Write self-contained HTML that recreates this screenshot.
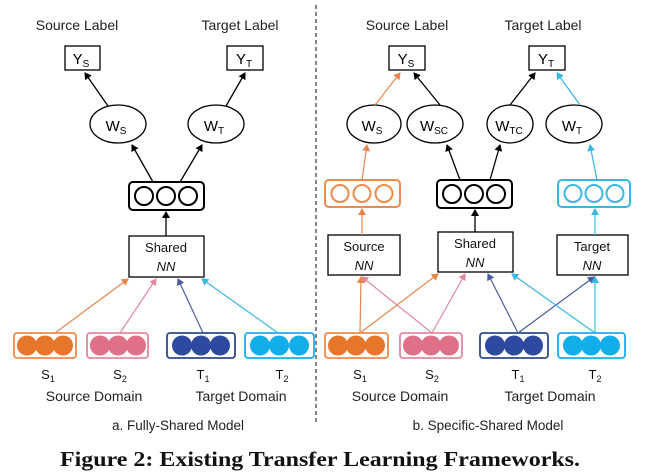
<!DOCTYPE html>
<html><head><meta charset="utf-8"><style>
html,body{margin:0;padding:0;background:#fff;}
svg{display:block;font-family:"Liberation Sans",sans-serif;}
</style></head><body>
<svg width="658" height="476" viewBox="0 0 658 476" xmlns="http://www.w3.org/2000/svg">
<defs>
<marker id="ak" markerWidth="8" markerHeight="8" refX="6" refY="4" orient="auto" markerUnits="userSpaceOnUse"><path d="M0,0 L7,4 L0,8 z" fill="#000"/></marker>
<marker id="ao" markerWidth="8" markerHeight="8" refX="6" refY="4" orient="auto" markerUnits="userSpaceOnUse"><path d="M0,0 L7,4 L0,8 z" fill="#E8864A"/></marker>
<marker id="ap" markerWidth="8" markerHeight="8" refX="6" refY="4" orient="auto" markerUnits="userSpaceOnUse"><path d="M0,0 L7,4 L0,8 z" fill="#E0899D"/></marker>
<marker id="an" markerWidth="8" markerHeight="8" refX="6" refY="4" orient="auto" markerUnits="userSpaceOnUse"><path d="M0,0 L7,4 L0,8 z" fill="#4A5E9E"/></marker>
<marker id="ac" markerWidth="8" markerHeight="8" refX="6" refY="4" orient="auto" markerUnits="userSpaceOnUse"><path d="M0,0 L7,4 L0,8 z" fill="#3AB6E4"/></marker>
</defs>
<g font-size="14" fill="#222" text-anchor="middle">
<text x="77" y="30">Source Label</text><text x="240" y="30">Target Label</text>
<text x="407" y="30">Source Label</text><text x="543" y="30">Target Label</text>
</g>
<line x1="316" y1="5" x2="316" y2="425" stroke="#333" stroke-width="1.2" stroke-dasharray="4,3"/>
<g fill="#fff" stroke="#000" stroke-width="1.3">
<rect x="65" y="46" width="35" height="24"/><rect x="227" y="46" width="36" height="24"/>
<rect x="389" y="46" width="36" height="24"/><rect x="529" y="46" width="36" height="24"/>
<ellipse cx="118" cy="124" rx="28" ry="19"/><ellipse cx="216" cy="124" rx="28" ry="19"/>
<ellipse cx="374" cy="124" rx="27" ry="19"/><ellipse cx="435" cy="124" rx="28" ry="19"/>
<ellipse cx="510" cy="124" rx="23" ry="19"/><ellipse cx="574" cy="124" rx="28" ry="19"/>
<rect x="129" y="236" width="75" height="41"/>
<rect x="328" y="235" width="72" height="40"/><rect x="438" y="232" width="75" height="40"/><rect x="557" y="235" width="71" height="40"/>
</g>
<g font-size="15" fill="#000" text-anchor="middle">
<text x="81" y="64">Y<tspan font-size="10" dy="3">S</tspan></text>
<text x="244" y="64">Y<tspan font-size="10" dy="3">T</tspan></text>
<text x="406" y="64">Y<tspan font-size="10" dy="3">S</tspan></text>
<text x="546" y="64">Y<tspan font-size="10" dy="3">T</tspan></text>
<text x="116" y="131">W<tspan font-size="10" dy="3">S</tspan></text>
<text x="214" y="131">W<tspan font-size="10" dy="3">T</tspan></text>
<text x="372" y="131">W<tspan font-size="10" dy="3">S</tspan></text>
<text x="434" y="131">W<tspan font-size="10" dy="3">SC</tspan></text>
<text x="509" y="131">W<tspan font-size="10" dy="3">TC</tspan></text>
<text x="572" y="131">W<tspan font-size="10" dy="3">T</tspan></text>
</g>
<g font-size="13" fill="#111" text-anchor="middle">
<text x="166" y="252">Shared</text><text x="166" y="271" font-style="italic">NN</text>
<text x="364" y="251">Source</text><text x="364" y="270" font-style="italic">NN</text>
<text x="475" y="248">Shared</text><text x="475" y="267" font-style="italic">NN</text>
<text x="592" y="251">Target</text><text x="592" y="270" font-style="italic">NN</text>
</g>
<g fill="none" stroke-width="2">
<rect x="129" y="182" width="75" height="28" rx="4" stroke="#000"/>
<circle cx="144" cy="196" r="9" stroke="#000"/><circle cx="166" cy="196" r="9" stroke="#000"/><circle cx="188" cy="196" r="9" stroke="#000"/>
<rect x="325" y="180" width="75" height="27" rx="4" stroke="#EE8A4A"/>
<circle cx="340" cy="193.5" r="8.5" stroke="#EE8A4A"/><circle cx="362" cy="193.5" r="8.5" stroke="#EE8A4A"/><circle cx="384" cy="193.5" r="8.5" stroke="#EE8A4A"/>
<rect x="437" y="180" width="75" height="28" rx="4" stroke="#000"/>
<circle cx="452" cy="194" r="9" stroke="#000"/><circle cx="474" cy="194" r="9" stroke="#000"/><circle cx="496" cy="194" r="9" stroke="#000"/>
<rect x="558" y="180" width="72" height="27" rx="4" stroke="#3AB6E4"/>
<circle cx="573" cy="193.5" r="8.5" stroke="#3AB6E4"/><circle cx="594" cy="193.5" r="8.5" stroke="#3AB6E4"/><circle cx="615" cy="193.5" r="8.5" stroke="#3AB6E4"/>
</g>
<g stroke-width="1.8">
<rect x="14" y="333" width="62" height="25" rx="3" fill="#fff" stroke="#EE8A4A"/>
<rect x="87" y="333" width="61" height="25" rx="3" fill="#fff" stroke="#E0899D"/>
<rect x="167" y="333" width="68" height="25" rx="3" fill="#fff" stroke="#2F4A8A"/>
<rect x="245" y="333" width="69" height="25" rx="3" fill="#fff" stroke="#18B0E8"/>
<rect x="325" y="333" width="63" height="25" rx="3" fill="#fff" stroke="#EE8A4A"/>
<rect x="400" y="333" width="62" height="25" rx="3" fill="#fff" stroke="#E0899D"/>
<rect x="480" y="333" width="68" height="25" rx="3" fill="#fff" stroke="#2F4A8A"/>
<rect x="558" y="333" width="67" height="25" rx="3" fill="#fff" stroke="#18B0E8"/>
</g>
<g>
<g fill="#E6762A"><circle cx="27" cy="345.5" r="10"/><circle cx="45" cy="345.5" r="10"/><circle cx="63" cy="345.5" r="10"/>
<circle cx="338" cy="345.5" r="10"/><circle cx="356" cy="345.5" r="10"/><circle cx="375" cy="345.5" r="10"/></g>
<g fill="#E07088"><circle cx="100" cy="345.5" r="10"/><circle cx="118" cy="345.5" r="10"/><circle cx="136" cy="345.5" r="10"/>
<circle cx="413" cy="345.5" r="10"/><circle cx="431" cy="345.5" r="10"/><circle cx="449" cy="345.5" r="10"/></g>
<g fill="#2E4AA0"><circle cx="182" cy="345.5" r="10"/><circle cx="201" cy="345.5" r="10"/><circle cx="220" cy="345.5" r="10"/>
<circle cx="495" cy="345.5" r="10"/><circle cx="514" cy="345.5" r="10"/><circle cx="533" cy="345.5" r="10"/></g>
<g fill="#12AEEA"><circle cx="260" cy="345.5" r="10"/><circle cx="279" cy="345.5" r="10"/><circle cx="299" cy="345.5" r="10"/>
<circle cx="573" cy="345.5" r="10"/><circle cx="591" cy="345.5" r="10"/><circle cx="610" cy="345.5" r="10"/></g>
</g>
<g stroke="#000" stroke-width="1.3" marker-end="url(#ak)">
<line x1="108" y1="106" x2="85" y2="73"/><line x1="226" y1="106" x2="245" y2="73"/>
<line x1="153" y1="182" x2="132" y2="145"/><line x1="180" y1="182" x2="202" y2="145"/>
<line x1="166" y1="236" x2="166" y2="212"/>
<line x1="440" y1="105" x2="414" y2="73"/><line x1="510" y1="105" x2="535" y2="73"/>
<line x1="460" y1="180" x2="447" y2="145"/><line x1="490" y1="180" x2="500" y2="145"/>
<line x1="475" y1="232" x2="475" y2="210"/>
</g>
<g stroke-width="1.2">
<line x1="55" y1="333" x2="128" y2="279" stroke="#E8864A" marker-end="url(#ao)"/>
<line x1="120" y1="333" x2="156" y2="279" stroke="#E0899D" marker-end="url(#ap)"/>
<line x1="203" y1="333" x2="178" y2="279" stroke="#4A5E9E" marker-end="url(#an)"/>
<line x1="278" y1="333" x2="202" y2="279" stroke="#3AB6E4" marker-end="url(#ac)"/>
<line x1="360" y1="333" x2="361" y2="277" stroke="#E8864A" marker-end="url(#ao)"/>
<line x1="360" y1="333" x2="438" y2="274" stroke="#E8864A" marker-end="url(#ao)"/>
<line x1="432" y1="333" x2="362" y2="277" stroke="#E0899D" marker-end="url(#ap)"/>
<line x1="432" y1="333" x2="465" y2="274" stroke="#E0899D" marker-end="url(#ap)"/>
<line x1="518" y1="333" x2="488" y2="274" stroke="#4A5E9E" marker-end="url(#an)"/>
<line x1="518" y1="333" x2="594" y2="277" stroke="#4A5E9E" marker-end="url(#an)"/>
<line x1="595" y1="333" x2="512" y2="274" stroke="#3AB6E4" marker-end="url(#ac)"/>
<line x1="595" y1="333" x2="595" y2="277" stroke="#3AB6E4" marker-end="url(#ac)"/>
<line x1="362" y1="235" x2="362" y2="209" stroke="#E8864A" marker-end="url(#ao)"/>
<line x1="362" y1="180" x2="367" y2="145" stroke="#E8864A" marker-end="url(#ao)"/>
<line x1="375" y1="105" x2="400" y2="73" stroke="#E8864A" marker-end="url(#ao)"/>
<line x1="595" y1="235" x2="595" y2="209" stroke="#3AB6E4" marker-end="url(#ac)"/>
<line x1="597" y1="180" x2="590" y2="145" stroke="#3AB6E4" marker-end="url(#ac)"/>
<line x1="580" y1="105" x2="557" y2="73" stroke="#3AB6E4" marker-end="url(#ac)"/>
</g>
<g font-size="13" fill="#111" text-anchor="middle">
<text x="48" y="379">S<tspan font-size="9" dy="3">1</tspan></text>
<text x="120" y="379">S<tspan font-size="9" dy="3">2</tspan></text>
<text x="203" y="379">T<tspan font-size="9" dy="3">1</tspan></text>
<text x="282" y="379">T<tspan font-size="9" dy="3">2</tspan></text>
<text x="360" y="379">S<tspan font-size="9" dy="3">1</tspan></text>
<text x="432" y="379">S<tspan font-size="9" dy="3">2</tspan></text>
<text x="518" y="379">T<tspan font-size="9" dy="3">1</tspan></text>
<text x="595" y="379">T<tspan font-size="9" dy="3">2</tspan></text>
</g>
<g font-size="14" fill="#222" text-anchor="middle">
<text x="94" y="401">Source Domain</text><text x="241" y="401">Target Domain</text>
<text x="400" y="401">Source Domain</text><text x="550" y="401">Target Domain</text>
<text x="178" y="430" font-size="13.5">a. Fully-Shared Model</text>
<text x="488" y="430" font-size="13.5">b. Specific-Shared Model</text>
</g>
<text x="60" y="466" font-family="Liberation Serif,serif" font-weight="bold" font-size="21" fill="#111" textLength="520" lengthAdjust="spacingAndGlyphs">Figure 2: Existing Transfer Learning Frameworks.</text>
</svg>
</body></html>
